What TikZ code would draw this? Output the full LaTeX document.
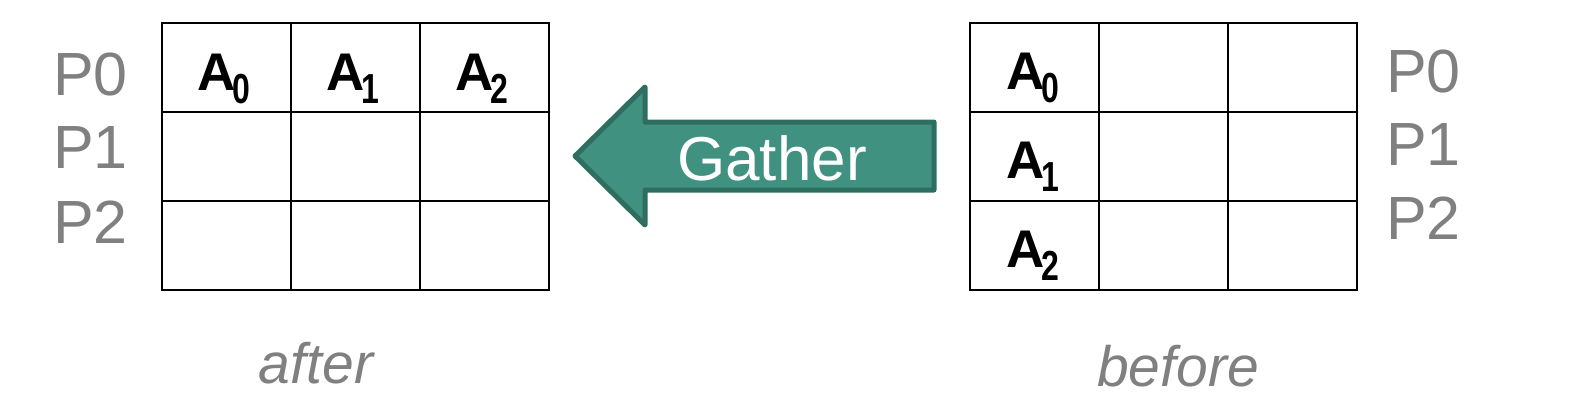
\documentclass[tikz,border=0pt]{standalone}
\usepackage{fontspec}
\setmainfont{Liberation Sans}
\definecolor{plabel}{RGB}{128,128,128}
\definecolor{arrowfill}{RGB}{64,145,128}
\definecolor{arrowline}{RGB}{46,110,96}
\tikzset{
  cell/.style={draw=black, line width=2.6pt, minimum width=129pt, minimum height=89pt, inner sep=0pt, outer sep=0pt},
  plab/.style={text=plabel, font=\fontsize{61}{61}\selectfont, anchor=base west, inner sep=0pt},
  alab/.style={font=\fontsize{53}{53}\selectfont\bfseries, inner sep=0pt, anchor=base},
  caption/.style={text=plabel, font=\fontsize{57}{57}\selectfont\itshape, anchor=base, inner sep=0pt},
  gatherarrow/.style={fill=arrowfill, draw=arrowline, line width=5pt, line join=round},
}
\newcommand{\Asub}[1]{A\kern-3pt\raisebox{-13pt}{\scalebox{0.8}[1.05]{\fontsize{40}{40}\selectfont\bfseries #1}}}
\begin{document}
\begin{tikzpicture}[x=1pt,y=-1pt]
\useasboundingbox (0,0) rectangle (1570,418);
% left grid (after)
\foreach \c/\x in {0/226.5,1/355.5,2/484.5}{
  \foreach \r/\y in {0/67.5,1/156.5,2/245.5}{
    \node[cell] (L\r\c) at (\x,\y) {};
  }
}
% right grid (before)
\foreach \c/\x in {0/1034.5,1/1163.5,2/1292.5}{
  \foreach \r/\y in {0/67.5,1/156.5,2/245.5}{
    \node[cell] (R\r\c) at (\x,\y) {};
  }
}
% A labels
\node[alab] (la0) at (224,90) {\Asub{0}};
\node[alab] (la1) at (353,90) {\Asub{1}};
\node[alab] (la2) at (482,90) {\Asub{2}};
\node[alab] (ra0) at (1033,89) {\Asub{0}};
\node[alab] (ra1) at (1033,178) {\Asub{1}};
\node[alab] (ra2) at (1033,267) {\Asub{2}};
% P labels
\node[plab] (lp0) at (53,95) {P0};
\node[plab] (lp1) at (53,168) {P1};
\node[plab] (lp2) at (53,243) {P2};
\node[plab] (rp0) at (1386,92) {P0};
\node[plab] (rp1) at (1386,165) {P1};
\node[plab] (rp2) at (1386,239) {P2};
% arrow
\draw[gatherarrow] (575,156) -- (645,87) -- (645,122) -- (934,122) -- (934,190) -- (645,190) -- (645,225) -- cycle;
\node[text=white, font=\fontsize{62}{62}\selectfont, anchor=base, inner sep=0pt] (gather) at (772,180) {Gather};
% captions
\node[caption] (after) at (316,383) {after};
\node[caption] (before) at (1178,386) {before};
\end{tikzpicture}
\end{document}
